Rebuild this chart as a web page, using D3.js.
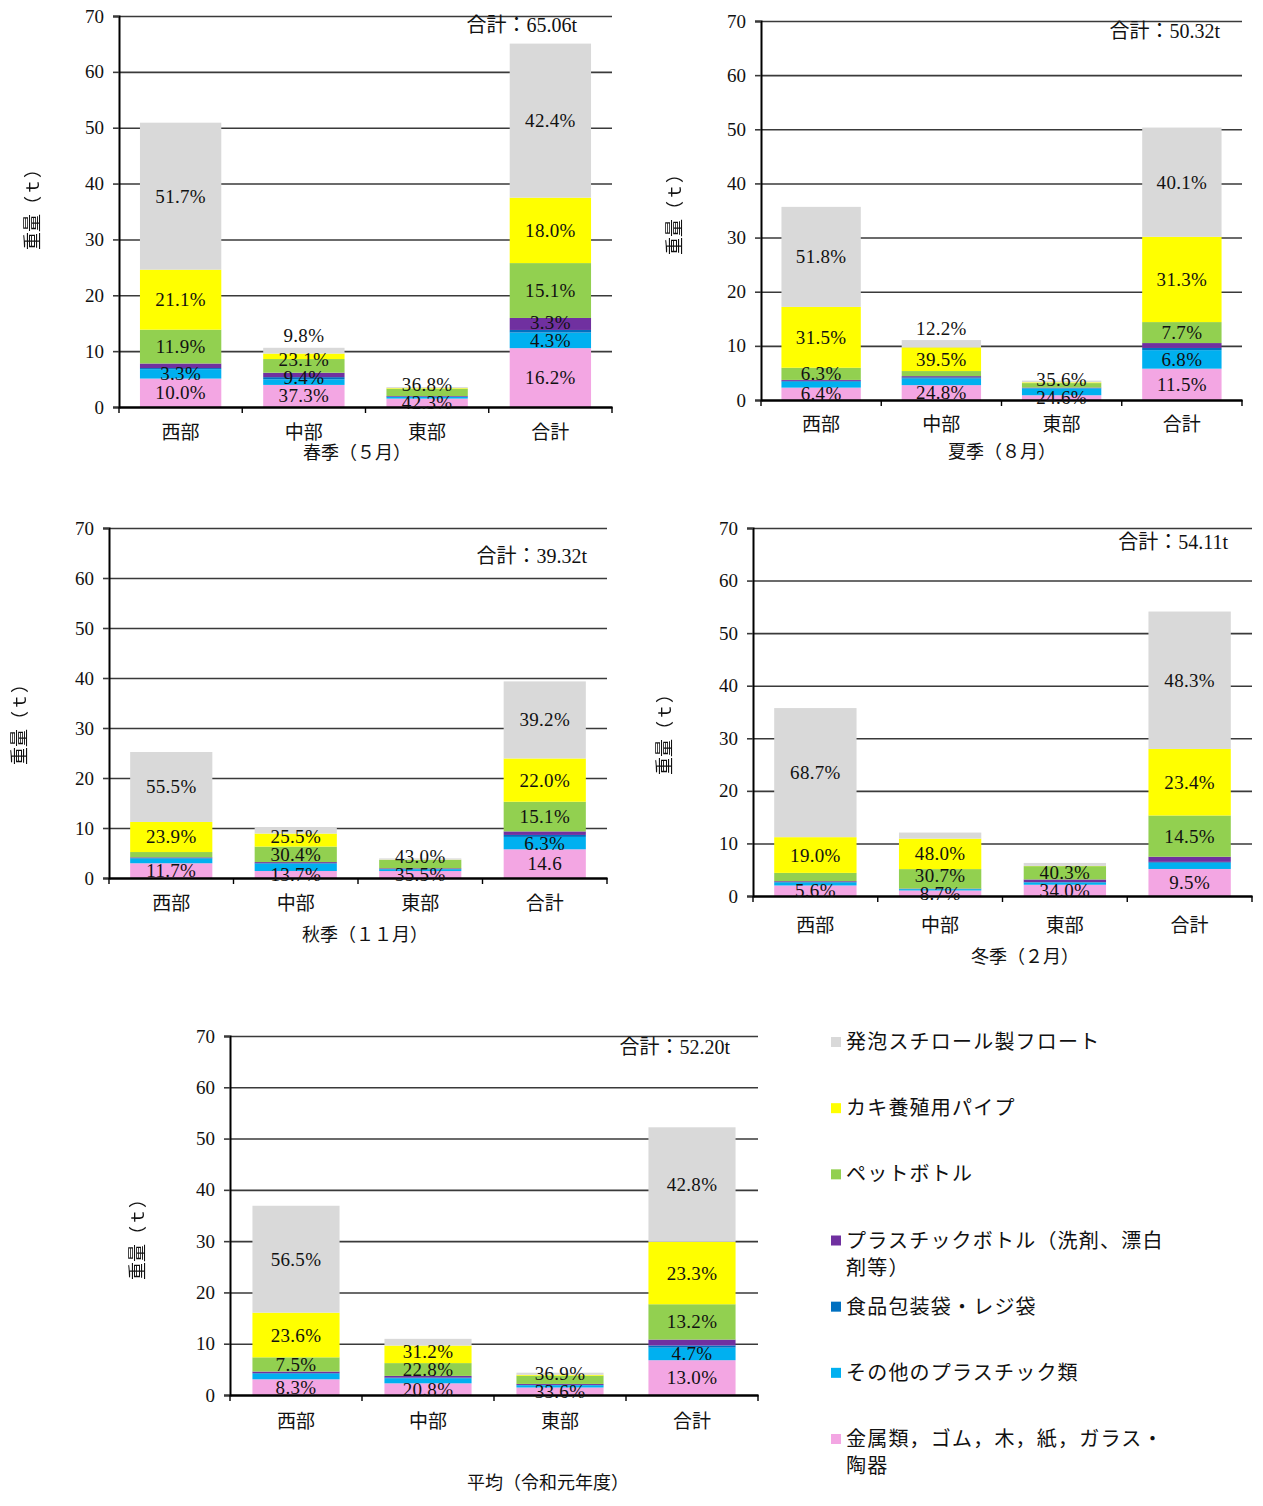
<!DOCTYPE html>
<html>
<head>
<meta charset="utf-8">
<script src="https://cdn.jsdelivr.net/npm/d3@7"></script>
<style>
  body { margin: 0; background: #fff; }
  svg { display: block; }
  text { font-family: "Liberation Serif", "Noto Sans CJK JP", serif; fill: #111; }
  .vtitle { filter: grayscale(100%); }
</style>
</head>
<body>
<svg id="chart" width="1263" height="1506"></svg>
<script>
// Regions along the x axis
const regions = ["西部", "中部", "東部", "合計"];

// Litter categories, in stacking order (bottom → top)
const seriesNames = [
  "金属類，ゴム，木，紙，ガラス・陶器",
  "その他のプラスチック類",
  "食品包装袋・レジ袋",
  "プラスチックボトル（洗剤、漂白剤等）",
  "ペットボトル",
  "カキ養殖用パイプ",
  "発泡スチロール製フロート"
];
const seriesColors = ["#f3a6e3", "#00b0f0", "#0070c0", "#7030a0", "#92d050", "#ffff00", "#d9d9d9"];

const yTicks = [0, 10, 20, 30, 40, 50, 60, 70];

// Total weight (t) per region: 西部, 中部, 東部, 合計
// Share (%) of each category per region, columns follow seriesNames
// Label flags: 1 = show "x.x%", 2 = show "x.x", 0 = no label

// 春季（５月）
const springTotals = [50.9, 10.6, 3.56, 65.06];
const springShares = [
  [10.0, 3.3, 0.4, 1.6, 11.9, 21.1, 51.7],
  [37.3, 9.4, 3.7, 7.5, 23.1, 9.2, 9.8],
  [42.3, 8.0, 2.0, 3.0, 36.8, 2.9, 5.0],
  [16.2, 4.3, 0.7, 3.3, 15.1, 18.0, 42.4]
];
const springLabels = [
  [1, 1, 0, 0, 1, 1, 1],
  [1, 1, 0, 0, 1, 0, 1],
  [1, 0, 0, 0, 1, 0, 0],
  [1, 1, 0, 1, 1, 1, 1]
];

// 夏季（８月）
const summerTotals = [35.67, 11.07, 3.58, 50.32];
const summerShares = [
  [6.4, 3.1, 0.4, 0.5, 6.3, 31.5, 51.8],
  [24.8, 11.0, 2.0, 2.0, 8.5, 39.5, 12.2],
  [24.6, 35.6, 1.0, 3.0, 23.0, 4.0, 8.8],
  [11.5, 6.8, 0.8, 1.8, 7.7, 31.3, 40.1]
];
const summerLabels = [
  [1, 0, 0, 0, 1, 1, 1],
  [1, 0, 0, 0, 0, 1, 1],
  [1, 1, 0, 0, 0, 0, 0],
  [1, 1, 0, 0, 1, 1, 1]
];

// 秋季（１１月）
const autumnTotals = [25.2, 10.2, 3.92, 39.32];
const autumnShares = [
  [11.7, 3.8, 0.4, 0.5, 4.2, 23.9, 55.5],
  [13.7, 14.5, 1.0, 2.0, 30.4, 25.5, 12.9],
  [35.5, 9.0, 1.5, 3.5, 43.0, 1.0, 6.5],
  [14.6, 6.3, 1.0, 1.8, 15.1, 22.0, 39.2]
];
const autumnLabels = [
  [1, 0, 0, 0, 0, 1, 1],
  [1, 0, 0, 0, 1, 1, 0],
  [1, 0, 0, 0, 1, 0, 0],
  [2, 1, 0, 0, 1, 1, 1]
];

// 冬季（２月）
const winterTotals = [35.75, 12.07, 6.29, 54.11];
const winterShares = [
  [5.6, 1.6, 0.3, 0.4, 4.4, 19.0, 68.7],
  [8.7, 2.0, 0.5, 0.5, 30.7, 48.0, 9.6],
  [34.0, 7.0, 1.0, 8.0, 40.3, 0.7, 9.0],
  [9.5, 2.2, 0.3, 1.8, 14.5, 23.4, 48.3]
];
const winterLabels = [
  [1, 0, 0, 0, 0, 1, 1],
  [1, 0, 0, 0, 1, 1, 0],
  [1, 0, 0, 0, 1, 0, 0],
  [1, 0, 0, 0, 1, 1, 1]
];

// 平均（令和元年度）
const averageTotals = [36.9, 10.95, 4.35, 52.20];
const averageShares = [
  [8.3, 3.0, 0.3, 0.8, 7.5, 23.6, 56.5],
  [20.8, 9.0, 1.2, 3.0, 22.8, 31.2, 12.0],
  [33.6, 10.0, 1.5, 4.5, 36.9, 4.0, 9.5],
  [13.0, 4.7, 0.8, 2.2, 13.2, 23.3, 42.8]
];
const averageLabels = [
  [1, 0, 0, 0, 1, 1, 1],
  [1, 0, 0, 0, 1, 1, 0],
  [1, 0, 0, 0, 1, 0, 0],
  [1, 1, 0, 0, 1, 1, 1]
];

// Panel layout (plot box in px, plus title / annotation anchors)
const panels = [
  { title: "春季（５月）", totals: springTotals, shares: springShares, labels: springLabels,
    left: 119, right: 612, top: 16, bottom: 407, catY: 432, titleX: 357, titleY: 453,
    yTitleX: 33, yTitleY: 205, sumX: 577, sumY: 25 },
  { title: "夏季（８月）", totals: summerTotals, shares: summerShares, labels: summerLabels,
    left: 761, right: 1242, top: 21, bottom: 400, catY: 424, titleX: 1002, titleY: 452,
    yTitleX: 675, yTitleY: 210, sumX: 1220, sumY: 31 },
  { title: "秋季（１１月）", totals: autumnTotals, shares: autumnShares, labels: autumnLabels,
    left: 109, right: 607, top: 528, bottom: 878, catY: 903, titleX: 365, titleY: 935,
    yTitleX: 20, yTitleY: 720, sumX: 587, sumY: 556 },
  { title: "冬季（２月）", totals: winterTotals, shares: winterShares, labels: winterLabels,
    left: 753, right: 1252, top: 528, bottom: 896, catY: 925, titleX: 1025, titleY: 957,
    yTitleX: 665, yTitleY: 730, sumX: 1228, sumY: 542 },
  { title: "平均（令和元年度）", totals: averageTotals, shares: averageShares, labels: averageLabels,
    left: 230, right: 758, top: 1036, bottom: 1395, catY: 1421, titleX: 548, titleY: 1483,
    yTitleX: 138, yTitleY: 1235, sumX: 730, sumY: 1047 }
];

const svg = d3.select("#chart");

function drawPanel(p) {
  const g = svg.append("g");
  const y = d3.scaleLinear().domain([0, 70]).range([p.bottom, p.top]);
  const x = d3.scaleBand().domain(regions).range([p.left, p.right])
    .paddingInner(0.34).paddingOuter(0.17);

  // horizontal gridlines
  const grid = g.append("g").attr("transform", `translate(${p.left},0)`)
    .call(d3.axisLeft(y).tickValues(yTicks.filter(t => t > 0))
      .tickSize(-(p.right - p.left)).tickFormat(""));
  grid.select(".domain").remove();
  grid.selectAll("line").attr("stroke", "#3a3a3a").attr("stroke-width", 1.6);

  // stacked bars (tonnes = total × share)
  const rows = regions.map((r, i) => {
    const o = { region: r };
    p.shares[i].forEach((s, k) => { o[k] = p.totals[i] * s / 100; });
    return o;
  });
  const stack = d3.stack().keys(d3.range(seriesNames.length))(rows);

  g.append("g").selectAll("g").data(stack).join("g")
    .attr("fill", (d, k) => seriesColors[k])
    .selectAll("rect").data(d => d).join("rect")
    .attr("x", d => x(d.data.region))
    .attr("width", x.bandwidth())
    .attr("y", d => y(d[1]))
    .attr("height", d => Math.max(0, y(d[0]) - y(d[1])));

  // y axis
  const ya = g.append("g").attr("transform", `translate(${p.left},0)`)
    .call(d3.axisLeft(y).tickValues(yTicks).tickSize(6).tickPadding(9).tickFormat(d3.format("d")));
  ya.select(".domain").attr("stroke", "#000").attr("stroke-width", 2);
  ya.selectAll(".tick line").attr("stroke", "#3a3a3a").attr("stroke-width", 1.6);
  ya.selectAll(".tick text").attr("font-size", 19)
    .attr("font-family", "Liberation Serif, serif").attr("fill", "#222");

  // x axis with ticks at band boundaries
  const xa = g.append("g").attr("transform", `translate(0,${p.bottom})`)
    .call(d3.axisBottom(x).tickSize(0).tickFormat(""));
  xa.select(".domain").attr("stroke", "#000").attr("stroke-width", 2.6);
  const step = x.step();
  g.append("g").selectAll("line").data(d3.range(regions.length + 1)).join("line")
    .attr("x1", i => p.left + i * step).attr("x2", i => p.left + i * step)
    .attr("y1", p.bottom).attr("y2", p.bottom + 6)
    .attr("stroke", "#000").attr("stroke-width", 1.4);
  g.append("g").selectAll("text").data(regions).join("text")
    .attr("x", d => x(d) + x.bandwidth() / 2).attr("y", p.catY)
    .attr("text-anchor", "middle").attr("dominant-baseline", "central")
    .attr("font-size", 19).text(d => d);

  // segment labels (share %), stacked upward when they would collide
  const labelData = [];
  regions.forEach((r, i) => {
    let prevY = Infinity;
    const topK = d3.range(seriesNames.length).filter(k => p.shares[i][k] > 0).pop();
    for (let k = 0; k < seriesNames.length; k++) {
      const flag = p.labels[i][k];
      if (!flag) continue;
      const seg = stack[k][i];
      let cy = (y(seg[0]) + y(seg[1])) / 2;
      const h = y(seg[0]) - y(seg[1]);
      if (k === topK && h < 12) cy = y(seg[1]) - 12;
      if (cy > prevY - 18) cy = prevY - 18;
      prevY = cy;
      const txt = p.shares[i][k].toFixed(1) + (flag === 1 ? "%" : "");
      labelData.push({ x: x(r) + x.bandwidth() / 2, y: cy, txt });
    }
  });
  g.append("g").selectAll("text").data(labelData).join("text")
    .attr("x", d => d.x).attr("y", d => d.y)
    .attr("text-anchor", "middle").attr("dominant-baseline", "central")
    .attr("font-size", 19).attr("letter-spacing", 0.3).attr("fill", "#1a1a1a").text(d => d.txt);

  // grand total note
  g.append("text").attr("x", p.sumX).attr("y", p.sumY)
    .attr("text-anchor", "end").attr("dominant-baseline", "central")
    .attr("font-size", 20).text("合計：" + p.totals[3].toFixed(2) + "t");

  // axis titles
  g.append("text").attr("x", p.titleX).attr("y", p.titleY)
    .attr("text-anchor", "middle").attr("dominant-baseline", "central")
    .attr("font-size", 18).text(p.title);
  g.append("text").attr("class", "vtitle")
    .attr("transform", `translate(${p.yTitleX},${p.yTitleY}) rotate(-90)`)
    .attr("text-anchor", "middle").attr("dominant-baseline", "central")
    .attr("font-size", 18).attr("fill", "#111").text("重量（ｔ）");
}

panels.forEach(drawPanel);

// Legend (top → bottom is the reverse of stacking order)
const legendOrder = d3.range(seriesNames.length).reverse();
const legendY = d3.scalePoint().domain(legendOrder).range([1042, 1439]);
const legend = svg.append("g");
const maxLegendWidth = 330;
legendOrder.forEach(k => {
  const yy = legendY(k);
  legend.append("rect").attr("x", 831).attr("y", yy - 5).attr("width", 10).attr("height", 10)
    .attr("fill", seriesColors[k]);
  const t = legend.append("text").attr("x", 846).attr("y", yy)
    .attr("dominant-baseline", "central").attr("font-size", 20)
    .attr("letter-spacing", 1.2).attr("font-family", "Noto Sans CJK JP, sans-serif");
  // wrap characters by measured width
  const chars = Array.from(seriesNames[k]);
  let line = "", lines = [];
  const probe = t.append("tspan");
  chars.forEach(c => {
    probe.text(line + c);
    if (probe.node().getComputedTextLength() > maxLegendWidth && line) {
      lines.push(line); line = c;
    } else line += c;
  });
  lines.push(line);
  probe.remove();
  lines.forEach((ln, j) => {
    t.append("tspan").attr("x", 846).attr("dy", j === 0 ? 0 : 27).text(ln);
  });
});
</script>
</body>
</html>
